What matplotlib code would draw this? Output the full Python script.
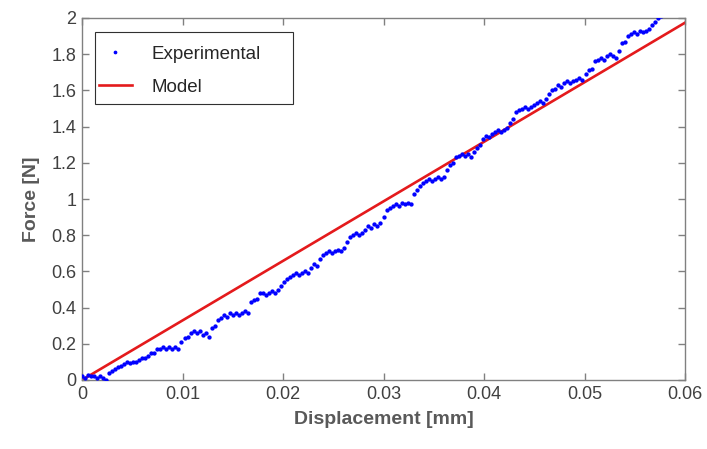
import numpy as np
import matplotlib
matplotlib.use("Agg")
import matplotlib.pyplot as plt
from matplotlib.patches import Rectangle

plt.rcParams['font.family'] = ['Liberation Sans', 'DejaVu Sans']

# sampling step of the measurement (mm)
step = 0.0003

# measured force [N], one value per step
force_exp = [
    0.02, 0.01, 0.03, 0.02, 0.02, 0.01, 0.02, 0.01, 0.00, 0.04,
    0.05, 0.06, 0.07, 0.08, 0.09, 0.10, 0.095, 0.10, 0.10, 0.11,
    0.12, 0.12, 0.13, 0.15, 0.15, 0.17, 0.17, 0.18, 0.17, 0.18,
    0.17, 0.18, 0.17, 0.21, 0.23, 0.24, 0.26, 0.27, 0.26, 0.27,
    0.25, 0.26, 0.24, 0.29, 0.30, 0.33, 0.34, 0.36, 0.35, 0.37,
    0.36, 0.37, 0.36, 0.37, 0.38, 0.37, 0.43, 0.44, 0.45, 0.48,
    0.48, 0.47, 0.48, 0.49, 0.48, 0.50, 0.52, 0.54, 0.56, 0.57,
    0.58, 0.59, 0.58, 0.59, 0.60, 0.59, 0.62, 0.64, 0.63, 0.67,
    0.69, 0.70, 0.71, 0.70, 0.71, 0.72, 0.71, 0.73, 0.76, 0.79,
    0.80, 0.81, 0.80, 0.81, 0.83, 0.85, 0.84, 0.86, 0.85, 0.87,
    0.90, 0.94, 0.95, 0.96, 0.97, 0.96, 0.98, 0.97, 0.98, 0.97,
    1.03, 1.05, 1.07, 1.09, 1.10, 1.11, 1.10, 1.11, 1.12, 1.11,
    1.12, 1.16, 1.19, 1.20, 1.23, 1.24, 1.25, 1.24, 1.25, 1.23,
    1.26, 1.28, 1.30, 1.33, 1.35, 1.34, 1.36, 1.37, 1.38, 1.37,
    1.38, 1.39, 1.42, 1.44, 1.48, 1.49, 1.50, 1.51, 1.50, 1.51,
    1.52, 1.53, 1.54, 1.53, 1.55, 1.58, 1.60, 1.61, 1.63, 1.62,
    1.64, 1.65, 1.64, 1.65, 1.66, 1.67, 1.66, 1.69, 1.71, 1.72,
    1.76, 1.77, 1.78, 1.77, 1.79, 1.80, 1.79, 1.78, 1.82, 1.86,
    1.87, 1.90, 1.91, 1.92, 1.91, 1.93, 1.92, 1.93, 1.94, 1.96,
    1.98, 2.00, 2.01,
]
disp_exp = np.arange(len(force_exp)) * step

# model line end points
disp_model = [0.0, 0.06]
force_model = [0.0, 1.974]

xticks = [0, 0.01, 0.02, 0.03, 0.04, 0.05, 0.06]
xticklabels = ['0', '0.01', '0.02', '0.03', '0.04', '0.05', '0.06']
yticks = [0, 0.2, 0.4, 0.6, 0.8, 1.0, 1.2, 1.4, 1.6, 1.8, 2.0]
yticklabels = ['0', '0.2', '0.4', '0.6', '0.8', '1', '1.2', '1.4', '1.6', '1.8', '2']

axis_gray = '#808080'
text_gray = '#404040'

fig = plt.figure(figsize=(7.07, 4.49), dpi=100)
ax = fig.add_axes([82 / 707, 69 / 449, 603 / 707, 362 / 449])

ax.plot(disp_exp, force_exp, linestyle='none', marker='o', markersize=2.1,
        color='#0000ff', label='Experimental', zorder=3)
ax.plot(disp_model, force_model, color='#e41a1c', linewidth=1.9,
        label='Model', zorder=2)

ax.set_xlim(0, 0.06)
ax.set_ylim(0, 2)
ax.set_xticks(xticks)
ax.set_xticklabels(xticklabels)
ax.set_yticks(yticks)
ax.set_yticklabels(yticklabels)

for s in ax.spines.values():
    s.set_color(axis_gray)
    s.set_linewidth(1.0)
ax.tick_params(direction='in', length=5, width=1.0, color=axis_gray,
               labelcolor=text_gray, labelsize=13, top=True, right=True, pad=4)

ax.set_xlabel('Displacement [mm]', fontsize=14, fontweight='bold',
              color='#595959', labelpad=6)
ax.set_ylabel('Force [N]', fontsize=14, fontweight='bold',
              color='#595959', labelpad=8)

# legend frame drawn as a box, MATLAB style (wide right margin)
ax.add_patch(Rectangle((13 / 603, 276 / 362), 198 / 603, 72 / 362,
                       transform=ax.transAxes, facecolor='white',
                       edgecolor='#303030', linewidth=0.8, zorder=4))
leg = ax.legend(loc='upper left', bbox_to_anchor=(13 / 603, 338 / 362),
                fontsize=13.5, frameon=False, borderpad=0.2,
                labelspacing=0.85, handlelength=1.76, handletextpad=1.07,
                borderaxespad=0, markerscale=0.8)
leg.set_zorder(5)
for t in leg.get_texts():
    t.set_color('#262626')

fig.savefig('out.png', dpi=100)
